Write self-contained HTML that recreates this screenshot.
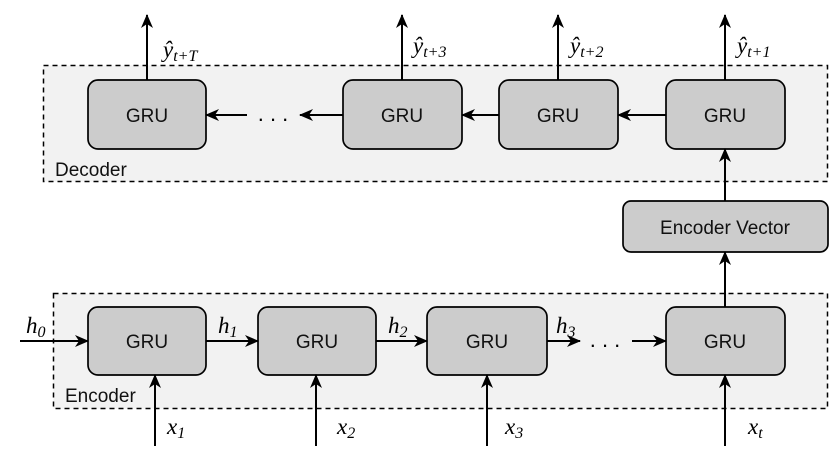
<!DOCTYPE html>
<html><head><meta charset="utf-8"><style>
body{margin:0;background:#fff}
svg{display:block}
.g{font-family:"Liberation Sans",Arial,sans-serif;font-size:19px;fill:#111}
.m{font-family:"Liberation Serif",serif;font-style:italic;font-size:23px;fill:#000}
.s{font-size:16px}
</style></head><body>
<svg width="830" height="465" viewBox="0 0 830 465" xmlns="http://www.w3.org/2000/svg">
<defs><marker id="a" viewBox="0 0 14 12" refX="13" refY="6" markerWidth="14" markerHeight="12" markerUnits="userSpaceOnUse" orient="auto"><path d="M0,0 L14,6 L0,12 L4,6 z" fill="#000"/></marker></defs>
<rect x="43.5" y="65.5" width="784" height="116" fill="#f2f2f2" stroke="#000" stroke-width="1.5" stroke-dasharray="5,4"/>
<rect x="53.5" y="293.5" width="774" height="115" fill="#f2f2f2" stroke="#000" stroke-width="1.5" stroke-dasharray="5,4"/>
<text class="g" x="55" y="176">Decoder</text>
<text class="g" x="65" y="402">Encoder</text>
<g fill="#ccc" stroke="#000" stroke-width="1.7">
<rect x="88" y="80" width="118" height="69" rx="10"/>
<rect x="343" y="80" width="119" height="69" rx="10"/>
<rect x="499" y="80" width="119" height="69" rx="10"/>
<rect x="666" y="80" width="119" height="69" rx="10"/>
<rect x="623" y="201" width="205" height="51" rx="8"/>
<rect x="88" y="307" width="118" height="68" rx="10"/>
<rect x="258" y="307" width="118" height="68" rx="10"/>
<rect x="427" y="307" width="120" height="68" rx="10"/>
<rect x="666" y="307" width="119" height="68" rx="10"/>
</g>
<g class="g" text-anchor="middle">
<text x="147" y="122">GRU</text><text x="402" y="122">GRU</text><text x="558" y="122">GRU</text><text x="725" y="122">GRU</text>
<text x="725" y="234">Encoder Vector</text>
<text x="147" y="348">GRU</text><text x="317" y="348">GRU</text><text x="487" y="348">GRU</text><text x="725" y="348">GRU</text>
</g>
<g stroke="#000" stroke-width="2" fill="none" marker-end="url(#a)">
<line x1="147" y1="80" x2="147" y2="15"/>
<line x1="402" y1="80" x2="402" y2="15"/>
<line x1="558" y1="80" x2="558" y2="15"/>
<line x1="725" y1="80" x2="725" y2="15"/>
<line x1="666" y1="115" x2="618" y2="115"/>
<line x1="499" y1="115" x2="462" y2="115"/>
<line x1="343" y1="115" x2="300" y2="115"/>
<line x1="247" y1="115" x2="206" y2="115"/>
<line x1="725" y1="201" x2="725" y2="149"/>
<line x1="725" y1="307" x2="725" y2="252"/>
<line x1="20" y1="341" x2="88" y2="341"/>
<line x1="206" y1="341" x2="258" y2="341"/>
<line x1="376" y1="341" x2="427" y2="341"/>
<line x1="547" y1="341" x2="580" y2="341"/>
<line x1="632" y1="341" x2="666" y2="341"/>
<line x1="155" y1="446" x2="155" y2="375"/>
<line x1="316" y1="446" x2="316" y2="375"/>
<line x1="487" y1="446" x2="487" y2="375"/>
<line x1="725" y1="446" x2="725" y2="375"/>
</g>
<g font-family="Liberation Sans" font-size="22" text-anchor="middle"><text x="273" y="121">. . .</text><text x="605" y="347">. . .</text></g>
<g class="m">
<text x="163" y="57">ŷ<tspan class="s" dy="4">t+T</tspan></text>
<text x="413" y="53">ŷ<tspan class="s" dy="4">t+3</tspan></text>
<text x="570" y="53">ŷ<tspan class="s" dy="4">t+2</tspan></text>
<text x="737" y="53">ŷ<tspan class="s" dy="4">t+1</tspan></text>
<text x="26" y="333">h<tspan class="s" dy="4">0</tspan></text>
<text x="218" y="333">h<tspan class="s" dy="4">1</tspan></text>
<text x="388" y="333">h<tspan class="s" dy="4">2</tspan></text>
<text x="556" y="333">h<tspan class="s" dy="4">3</tspan></text>
<text x="167" y="434">x<tspan class="s" dy="4">1</tspan></text>
<text x="337" y="434">x<tspan class="s" dy="4">2</tspan></text>
<text x="505" y="434">x<tspan class="s" dy="4">3</tspan></text>
<text x="748" y="434">x<tspan class="s" dy="4">t</tspan></text>
</g>
</svg>
</body></html>
